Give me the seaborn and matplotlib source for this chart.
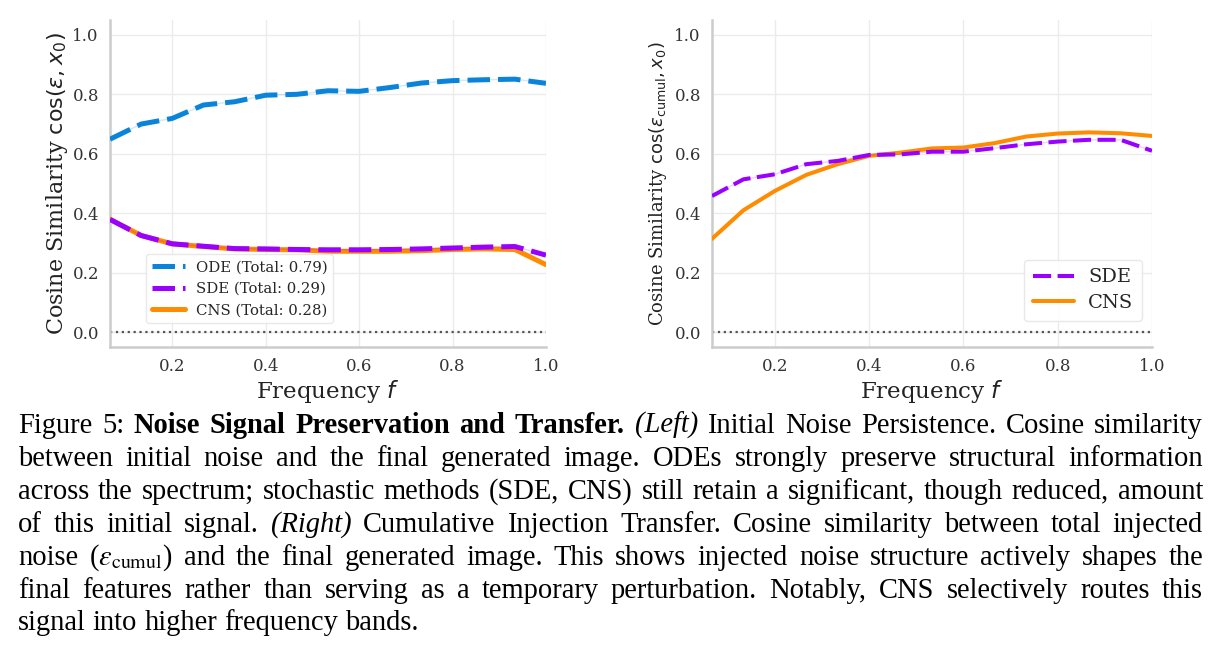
import numpy as np
import pandas as pd
import seaborn as sns
import matplotlib
matplotlib.use("Agg")
import matplotlib.pyplot as plt

# ---------------- data ----------------
freq = [1/15, 2/15, 3/15, 4/15, 5/15, 6/15, 7/15, 8/15, 9/15, 10/15, 11/15, 12/15, 13/15, 14/15, 1.0]

left_ode = [0.649, 0.700, 0.719, 0.764, 0.775, 0.797, 0.800, 0.812, 0.810, 0.823, 0.838, 0.846, 0.849, 0.851, 0.837]
left_sde = [0.379, 0.325, 0.297, 0.289, 0.281, 0.280, 0.278, 0.277, 0.277, 0.278, 0.280, 0.283, 0.286, 0.288, 0.259]
left_cns = [0.380, 0.325, 0.297, 0.288, 0.280, 0.278, 0.277, 0.272, 0.272, 0.272, 0.274, 0.278, 0.280, 0.278, 0.227]

right_sde = [0.458, 0.514, 0.531, 0.565, 0.576, 0.596, 0.598, 0.607, 0.607, 0.619, 0.632, 0.641, 0.647, 0.647, 0.610]
right_cns = [0.314, 0.410, 0.475, 0.529, 0.565, 0.593, 0.604, 0.618, 0.621, 0.636, 0.658, 0.668, 0.672, 0.669, 0.660]

left_labels = ["ODE (Total: 0.79)", "SDE (Total: 0.29)", "CNS (Total: 0.28)"]
right_labels = ["SDE", "CNS"]
x_ticks = [0.2, 0.4, 0.6, 0.8, 1.0]
y_ticks = [0.0, 0.2, 0.4, 0.6, 0.8, 1.0]

C_ODE = "#0a84db"
C_SDE = "#9900ff"
C_CNS = "#ff8c00"

caption_lines = [
    [("Figure 5: ", "normal", "normal"), ("Noise Signal Preservation and Transfer.", "bold", "normal"), (" ", "normal", "normal"),
     ("(Left)", "normal", "italic"), (" Initial Noise Persistence. Cosine similarity", "normal", "normal")],
    [("between initial noise and the final generated image. ODEs strongly preserve structural information", "normal", "normal")],
    [("across the spectrum; stochastic methods (SDE, CNS) still retain a significant, though reduced, amount", "normal", "normal")],
    [("of this initial signal. ", "normal", "normal"), ("(Right)", "normal", "italic"),
     (" Cumulative Injection Transfer. Cosine similarity between total injected", "normal", "normal")],
    [("noise ($\\epsilon_{\\mathrm{cumul}}$) and the final generated image. This shows injected noise structure actively shapes the", "normal", "normal")],
    [("final features rather than serving as a temporary perturbation. Notably, CNS selectively routes this", "normal", "normal")],
    [("signal into higher frequency bands.", "normal", "normal")],
]

# ---------------- style ----------------
sns.set_theme(style="whitegrid")
plt.rcParams["font.family"] = ["DejaVu Serif"]
plt.rcParams["grid.color"] = "#ebebeb"
plt.rcParams["axes.edgecolor"] = "#cccccc"
plt.rcParams["axes.linewidth"] = 1.8

W, H = 1220, 658
fig = plt.figure(figsize=(W / 100, H / 100), dpi=100)

def px_axes(x0, y0, x1, y1):
    return fig.add_axes([x0 / W, 1 - y1 / H, (x1 - x0) / W, (y1 - y0) / H])

axL = px_axes(110, 20, 546, 347)
axR = px_axes(712, 20, 1152, 347)

dfL = pd.DataFrame({"f": freq * 3,
                    "v": left_ode + left_sde + left_cns,
                    "m": [left_labels[0]] * 15 + [left_labels[1]] * 15 + [left_labels[2]] * 15})
dfR = pd.DataFrame({"f": freq * 2,
                    "v": right_sde + right_cns,
                    "m": [right_labels[0]] * 15 + [right_labels[1]] * 15})

DASH = (0, (4.5, 1.6))
LWL = 3.6
LWR = 2.9

# faint underlay lines for dashed series
for lab, col in [(left_labels[0], C_ODE), (left_labels[1], C_SDE)]:
    sub = dfL[dfL.m == lab]
    axL.plot(sub.f, sub.v, color=col, lw=1.0, alpha=0.18, zorder=3.5)
sub = dfR[dfR.m == right_labels[0]]
axR.plot(sub.f, sub.v, color=C_SDE, lw=1.0, alpha=0.18, zorder=3.5)

# left panel: CNS underneath, dashed lines on top
sns.lineplot(data=dfL[dfL.m == left_labels[2]], x="f", y="v", ax=axL, color=C_CNS, lw=LWL,
             label=left_labels[2], zorder=3)
sns.lineplot(data=dfL[dfL.m == left_labels[1]], x="f", y="v", ax=axL, color=C_SDE, lw=LWL,
             ls=DASH, label=left_labels[1], zorder=4)
sns.lineplot(data=dfL[dfL.m == left_labels[0]], x="f", y="v", ax=axL, color=C_ODE, lw=LWL,
             ls=DASH, label=left_labels[0], zorder=4)

sns.lineplot(data=dfR[dfR.m == right_labels[1]], x="f", y="v", ax=axR, color=C_CNS, lw=LWR,
             label=right_labels[1], zorder=3)
sns.lineplot(data=dfR[dfR.m == right_labels[0]], x="f", y="v", ax=axR, color=C_SDE, lw=LWR,
             ls=DASH, label=right_labels[0], zorder=4)

for ax in (axL, axR):
    ax.axhline(0, color="#555555", ls=":", lw=1.6, zorder=2)
    ax.set_xlim(1/15, 1.0)
    ax.set_ylim(-0.05, 1.05)
    ax.set_xticks(x_ticks)
    ax.set_yticks(y_ticks)
    ax.set_xticklabels([f"{t:.1f}" for t in x_ticks])
    ax.set_yticklabels([f"{t:.1f}" for t in y_ticks])
    ax.tick_params(axis="both", labelsize=12, colors="#333333", length=0)
    ax.tick_params(axis="x", pad=8)
    ax.tick_params(axis="y", pad=8)
    ax.set_xlabel("Frequency $f$", fontsize=16.5, labelpad=2, color="#222222")
    sns.despine(ax=ax)

axL.set_ylabel(r"Cosine Similarity $\cos(\epsilon, x_0)$", fontsize=16, labelpad=2, color="#222222")
axR.set_ylabel(r"Cosine Similarity $\cos(\epsilon_{\mathrm{cumul}}, x_0)$", fontsize=13, labelpad=4,
               color="#222222")

hL, lL = axL.get_legend_handles_labels()
order = [lL.index(l) for l in left_labels]
axL.legend([hL[i] for i in order], [lL[i] for i in order], loc="lower left",
           bbox_to_anchor=(0.083, 0.073), borderaxespad=0, fontsize=10.7, frameon=True,
           handlelength=2.2, labelspacing=0.5, borderpad=0.4, handletextpad=0.74,
           framealpha=0.9, edgecolor="#e6e6e6")
hR, lR = axR.get_legend_handles_labels()
order = [lR.index(l) for l in right_labels]
axR.legend([hR[i] for i in order], [lR[i] for i in order], loc="lower right",
           bbox_to_anchor=(0.977, 0.08), borderaxespad=0, fontsize=14, frameon=True,
           handlelength=2.1, labelspacing=0.4, borderpad=0.45, handletextpad=0.72,
           framealpha=0.9, edgecolor="#e6e6e6")

# ---------------- caption (justified) ----------------
renderer = fig.canvas.get_renderer()
CAP_FONT = ["Liberation Serif", "DejaVu Serif"]
x_left, x_right = 18, 1203
baseline0 = 433
line_gap = 32.9
avail = x_right - x_left

def text_width(s, weight, style, fs):
    t = fig.text(0, 0, s, fontsize=fs, family=CAP_FONT, weight=weight, style=style,
                 math_fontfamily="stix")
    w = t.get_window_extent(renderer).width
    t.remove()
    return w

def line_words(segs):
    tokens = []
    for s, wt, st in segs:
        parts = s.split(" ")
        for pi, p in enumerate(parts):
            if pi > 0:
                tokens.append(None)
            if p:
                tokens.append((p, wt, st))
    words = []
    gap_before = False
    for tk in tokens:
        if tk is None:
            gap_before = True
        else:
            words.append((tk, gap_before and len(words) > 0))
            gap_before = False
    return words

def natural_width(words, fs):
    sw = text_width("a a", "normal", "normal", fs) - text_width("aa", "normal", "normal", fs)
    ws = [text_width(w[0][0], w[0][1], w[0][2], fs) for w in words]
    return sum(ws) + sw * sum(1 for w in words if w[1]), ws, sw

base = 16.0
all_words = [line_words(s) for s in caption_lines]
nat_max = max(natural_width(w, base)[0] for w in all_words[:-1])
CAP_FS = base * avail / nat_max * 0.985

for li, words in enumerate(all_words):
    natural, widths, space_w = natural_width(words, CAP_FS)
    ngaps = sum(1 for w in words if w[1])
    last = li == len(all_words) - 1
    if not last and ngaps > 0:
        gap = space_w + (avail - natural) / ngaps
    else:
        gap = space_w
    x = x_left
    y = baseline0 + li * line_gap
    for (tk, g), w in zip(words, widths):
        if g:
            x += gap
        fig.text(x / W, 1 - y / H, tk[0], fontsize=CAP_FS, family=CAP_FONT, weight=tk[1],
                 style=tk[2], va="baseline", ha="left", math_fontfamily="stix", color="black")
        x += w

fig.savefig("out.png", dpi=100)
